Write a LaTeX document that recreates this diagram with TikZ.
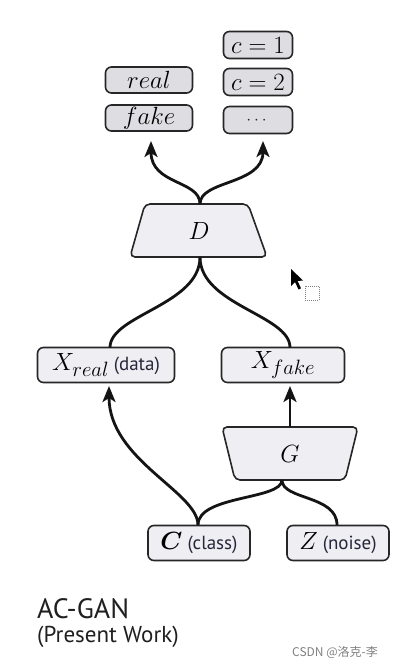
\documentclass[tikz,border=0pt]{standalone}
\usepackage{amsmath,bm}
\usepackage{fontspec}
\newfontfamily\lab{PT Sans}
\newfontfamily\cjk{Noto Sans CJK SC}
\usetikzlibrary{arrows.meta}
\definecolor{edge}{HTML}{262626}
\definecolor{fillA}{HTML}{DEDEE2}
\definecolor{fillB}{HTML}{EEEEF3}
\definecolor{txt}{HTML}{26263A}
\tikzset{
  box/.style={draw=edge, line width=1.6pt, rounded corners=6pt, inner sep=0pt},
  topbox/.style={box, fill=fillA},
  midbox/.style={box, fill=fillB},
  trap/.style={draw=edge, line width=1.6pt, rounded corners=5pt, fill=fillB},
  link/.style={draw=black!92, line width=2.8pt},
  arr/.style={link, -{Stealth[length=16pt,width=13pt,inset=4pt]}},
}
\begin{document}
\begin{tikzpicture}[x=1pt,y=-1pt]
\useasboundingbox (0,0) rectangle (404,668);
% top output boxes
\node[topbox, minimum width=87pt, minimum height=26pt] (real) at (149,80) {\fontsize{27}{28}\selectfont$real$};
\node[topbox, minimum width=87pt, minimum height=26pt] (fake) at (149,118) {\fontsize{27}{28}\selectfont$fake$};
\node[topbox, minimum width=69pt, minimum height=27pt] (c1) at (258,45) {\fontsize{23}{24}\selectfont$c=1$};
\node[topbox, minimum width=69pt, minimum height=27pt] (c2) at (258,82) {\fontsize{23}{24}\selectfont$c=2$};
\node[topbox, minimum width=69pt, minimum height=27pt] (dots) at (258,120) {};
\node[text=txt] (dotstxt) at (258,121) {\fontsize{18}{18}\selectfont$\cdots$};
% D trapezoid
\draw[trap] (145,204) -- (248,204) -- (267,257) -- (130,257) -- cycle;
\node (D) at (199,231) {\fontsize{34}{36}\selectfont$D$};
\coordinate (Dtop) at (200,204);
\coordinate (Dbot) at (200,257);
% X boxes
\node[midbox, minimum width=137pt, minimum height=35pt] (Xr) at (106,365) {\fontsize{28}{30}\selectfont$X_{real}$\,{\lab\fontsize{19}{20}\selectfont\color{txt}(data)}};
\node[midbox, minimum width=123pt, minimum height=35pt] (Xf) at (283,365) {\fontsize{28}{30}\selectfont$X_{fake}$};
% G trapezoid
\draw[trap] (222,427) -- (358,427) -- (345,480) -- (235,480) -- cycle;
\node (G) at (290,454) {\fontsize{34}{36}\selectfont$G$};
\coordinate (Gtop) at (290,427);
\coordinate (Gbot) at (282,480);
% inputs
\node[midbox, minimum width=102pt, minimum height=35pt] (C) at (199,543) {\fontsize{30}{30}\selectfont$\bm{C}$\,{\lab\fontsize{19}{20}\selectfont\color{txt}(class)}};
\node[midbox, minimum width=102pt, minimum height=35pt] (Z) at (338,543) {\fontsize{30}{30}\selectfont$Z$\,{\lab\fontsize{19}{20}\selectfont\color{txt}(noise)}};
\coordinate (Ctop) at (198,525);
\coordinate (Ztop) at (337,525);
\coordinate (Xrtop) at (110,347.5);
\coordinate (Xftop) at (290,347.5);
\coordinate (Xrbot) at (109,386);
\coordinate (Xfbot) at (290,386);
\coordinate (realtip) at (151,141);
\coordinate (ctip) at (263,141);
% connectors
\draw[arr] (Dtop) .. controls (200,180) and (151,185) .. (realtip);
\draw[arr] (Dtop) .. controls (200,180) and (263,185) .. (ctip);
\draw[link] (Dbot) .. controls (200,305) and (110,315) .. (Xrtop);
\draw[link] (Dbot) .. controls (200,305) and (290,315) .. (Xftop);
\draw[arr] (Gtop) -- (Xfbot);
\draw[link] (Gbot) .. controls (282,500) and (198,495) .. (Ctop);
\draw[link] (Gbot) .. controls (282,500) and (337,495) .. (Ztop);
\draw[arr] (Ctop) .. controls (198,492) and (109,460) .. (Xrbot);
% cursor artifact
\fill[black] (291,269) -- (291,286) -- (295,282) -- (298.5,289.5) -- (301,288.3) -- (297.6,281) -- (303,280.5) -- cycle;
\draw[gray, densely dotted, line width=1pt] (305,286) rectangle (319,300);
% caption
\node[anchor=north west, inner sep=0pt, text=black!88] (title) at (37,598) {\lab\fontsize{28}{30}\selectfont AC-GAN};
\node[anchor=north west, inner sep=0pt, text=black!88] (sub) at (37,626) {\lab\fontsize{23}{25}\selectfont(Present Work)};
\node[anchor=west, inner sep=0pt, text=black!50] (wm) at (292,652) {\cjk\fontsize{12}{14}\selectfont CSDN @洛克-李};
\end{tikzpicture}
\end{document}
